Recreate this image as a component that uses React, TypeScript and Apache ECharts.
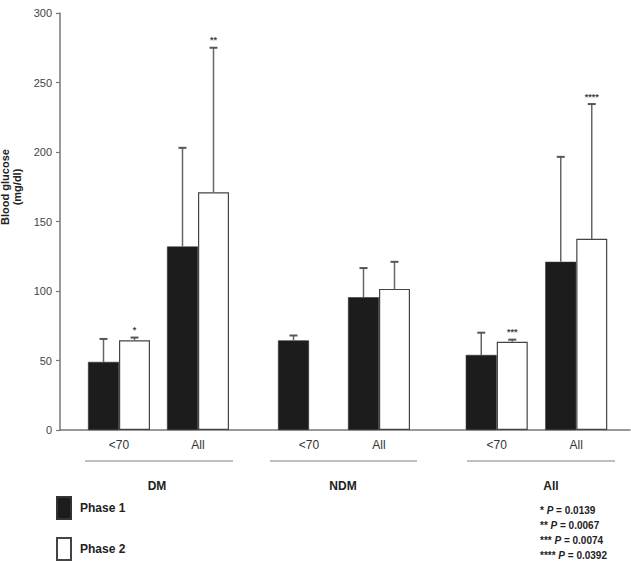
import React, { useEffect, useRef } from "react";
import * as echarts from "echarts";

const groups = ["DM", "NDM", "All"];
const subCategories = ["<70", "All"];
const phase1Mean = [49, 132, 64.5, 95.5, 54, 121];
const phase1Upper = [65.5, 203, 68, 116.5, 70, 196.5];
const phase2Mean: (number | null)[] = [64.5, 171, null, 101.5, 63.5, 137.5];
const phase2Upper: (number | null)[] = [66.5, 275, null, 121, 65, 234.5];
const phase2Stars = ["*", "**", "", "", "***", "****"];
const yTicks = { min: 0, max: 300, interval: 50 };
const pNotes = [
  { stars: "*", p: "0.0139" },
  { stars: "**", p: "0.0067" },
  { stars: "***", p: "0.0074" },
  { stars: "****", p: "0.0392" },
];

const NARROW = "'Liberation Sans Narrow', 'Arial Narrow', 'Liberation Sans', Arial, sans-serif";
const ARIAL = "'Liberation Sans', Arial, sans-serif";

// grid layout per group (pixel positions of group areas)
const groupGrids = [
  { left: 79.5, width: 158 },
  { left: 274, width: 140 },
  { left: 457, width: 159 },
];

export default function App() {
  const ref = useRef<HTMLDivElement>(null);
  useEffect(() => {
    document.body.style.margin = "0";
    const chart = echarts.init(ref.current!, undefined, { renderer: "svg" });

    const grids: any[] = [{ left: 60, right: 1, top: 13, bottom: 133 }];
    const xAxes: any[] = [
      {
        gridIndex: 0,
        type: "value",
        min: 0,
        max: 1,
        axisLine: { show: true, onZero: false, lineStyle: { color: "#777", width: 1.5 } },
        axisTick: { show: false },
        axisLabel: { show: false },
        splitLine: { show: false },
      },
    ];
    const yAxes: any[] = [
      {
        gridIndex: 0,
        type: "value",
        min: yTicks.min,
        max: yTicks.max,
        interval: yTicks.interval,
        axisLine: { show: true, lineStyle: { color: "#777", width: 1.5 } },
        axisTick: { show: true, length: 4, lineStyle: { color: "#777", width: 1.2 } },
        axisLabel: { fontFamily: NARROW, fontSize: 11, color: "#444", margin: 8 },
        splitLine: { show: false },
      },
    ];
    const series: any[] = [];

    const errRender = (upperArr: (number | null)[], meanArr: (number | null)[], g: number, offset: number, stars: string[] | null) =>
      (params: any, api: any) => {
        const i = params.dataIndex;
        const k = g * 2 + i;
        const m = meanArr[k];
        const u = upperArr[k];
        if (m == null || u == null) return null;
        const p0 = api.coord([i, m]);
        const p1 = api.coord([i, u]);
        const x = p0[0] + offset;
        const children: any[] = [
          { type: "line", shape: { x1: x, y1: p0[1], x2: x, y2: p1[1] }, style: { stroke: "#666", lineWidth: 1.5 } },
          { type: "line", shape: { x1: x - 4, y1: p1[1], x2: x + 4, y2: p1[1] }, style: { stroke: "#555", lineWidth: 2 } },
        ];
        if (stars && stars[k]) {
          children.push({
            type: "text",
            x: x,
            y: p1[1] - 3,
            style: {
              text: stars[k],
              fontSize: 9,
              fontWeight: "bold",
              fill: "#444",
              align: "center",
              verticalAlign: "bottom",
              fontFamily: ARIAL,
            },
          });
        }
        return { type: "group", children };
      };

    groupGrids.forEach((gg, g) => {
      const gi = g + 1;
      grids.push({ left: gg.left, width: gg.width, top: 13, bottom: 133 });
      xAxes.push({
        gridIndex: gi,
        type: "category",
        data: subCategories,
        axisLine: { show: false },
        axisTick: { show: false },
        axisLabel: { fontFamily: NARROW, fontSize: 12, color: "#333", margin: 9 },
      });
      yAxes.push({ gridIndex: gi, type: "value", min: yTicks.min, max: yTicks.max, show: false });
      const idx = [g * 2, g * 2 + 1];
      series.push({
        type: "bar",
        name: "Phase 1",
        xAxisIndex: gi,
        yAxisIndex: gi,
        barWidth: 31,
        barGap: "0%",
        data: idx.map((k) => phase1Mean[k]),
        itemStyle: { color: "#1c1c1c", borderColor: "#333", borderWidth: 0.6 },
      });
      series.push({
        type: "bar",
        name: "Phase 2",
        xAxisIndex: gi,
        yAxisIndex: gi,
        barWidth: 31,
        barGap: "0%",
        data: idx.map((k) => phase2Mean[k]),
        itemStyle: { color: "#ffffff", borderColor: "#444", borderWidth: 1.2 },
      });
      series.push({
        type: "custom",
        xAxisIndex: gi,
        yAxisIndex: gi,
        clip: false,
        z: 3,
        data: idx.map((k, i) => [i, phase1Mean[k], phase1Upper[k]]),
        renderItem: errRender(phase1Upper, phase1Mean, g, -15.5, null),
      });
      series.push({
        type: "custom",
        xAxisIndex: gi,
        yAxisIndex: gi,
        clip: false,
        z: 3,
        data: idx.map((k, i) => [i, phase2Mean[k] ?? 0, phase2Upper[k] ?? 0]),
        renderItem: errRender(phase2Upper, phase2Mean, g, 15.5, phase2Stars),
      });
    });

    const groupLines = [
      { x1: 85, x2: 233, cx: 157 },
      { x1: 270, x2: 417, cx: 343 },
      { x1: 467, x2: 615, cx: 551 },
    ];
    const graphic: any[] = [];
    groupLines.forEach((gl, i) => {
      graphic.push({
        type: "line",
        shape: { x1: gl.x1, y1: 461, x2: gl.x2, y2: 461 },
        style: { stroke: "#aaa", lineWidth: 1.5 },
      });
      graphic.push({
        type: "text",
        x: gl.cx,
        y: 486,
        style: {
          text: groups[i],
          fontFamily: NARROW,
          fontSize: 12,
          fontWeight: "bold",
          fill: "#222",
          align: "center",
          verticalAlign: "middle",
        },
      });
    });
    graphic.push({
      type: "text",
      x: 11,
      y: 187,
      rotation: Math.PI / 2,
      style: {
        text: "Blood glucose\n(mg/dl)",
        fontFamily: ARIAL,
        fontSize: 11,
        fontWeight: "bold",
        fill: "#222",
        align: "center",
        verticalAlign: "middle",
        lineHeight: 12,
      },
    });
    pNotes.forEach((n, i) => {
      graphic.push({
        type: "text",
        x: 540,
        y: 510 + i * 15,
        style: {
          text: `{s|${n.stars} }{p|P}{s| = ${n.p}}`,
          verticalAlign: "middle",
          rich: {
            s: { fontFamily: NARROW, fontSize: 10, fill: "#222", fontWeight: "bold" },
            p: { fontFamily: NARROW, fontSize: 10, fill: "#222", fontStyle: "italic", fontWeight: "bold" },
          },
        },
      });
    });

    chart.setOption({
      animation: false,
      grid: grids,
      xAxis: xAxes,
      yAxis: yAxes,
      series,
      legend: {
        data: ["Phase 1", "Phase 2"],
        orient: "vertical",
        left: 56,
        top: 496,
        padding: 0,
        itemWidth: 14,
        itemHeight: 22,
        itemGap: 17,
        icon: "rect",
        selectedMode: false,
        textStyle: { fontFamily: NARROW, fontSize: 12, fontWeight: "bold", color: "#222", padding: [0, 0, 0, 4] },
      },
      graphic,
    });
    return () => chart.dispose();
  }, []);
  return <div ref={ref} style={{ width: 631, height: 563 }} />;
}
